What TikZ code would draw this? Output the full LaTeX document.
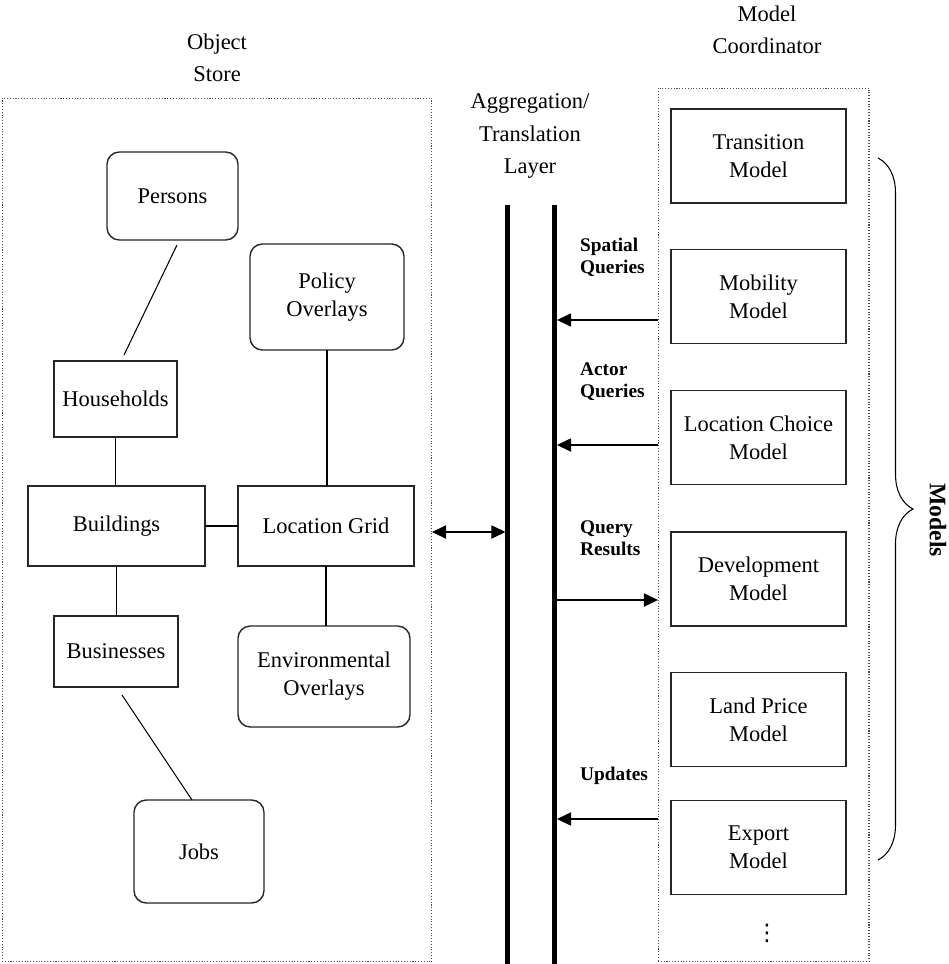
\documentclass[tikz,border=0pt]{standalone}
\usepackage{fontspec}
\setmainfont{Liberation Serif}
\newfontfamily\dotsfont{DejaVu Sans}
\usetikzlibrary{arrows.meta, positioning, decorations.pathreplacing, calc}
\tikzset{
    objBox/.style={draw=black!85, line width=0.8pt, align=center, inner sep=0pt, outer sep=0pt, font=\fontsize{12.8}{16}\selectfont},
    roundBox/.style={objBox, rounded corners=7pt},
    modelBox/.style={objBox, minimum width=3.5cm, minimum height=1.88cm},
    frameBox/.style={draw=black!70, densely dotted, line width=0.6pt, inner sep=0pt, outer sep=0pt},
    linkLine/.style={line width=0.6pt},
    busLine/.style={line width=2.8pt},
    flowArrow/.style={line width=0.7pt, -{Triangle[length=8pt, width=7.5pt]}},
    qLabel/.style={anchor=west, align=left, font=\fontsize{11}{12.5}\selectfont\bfseries},
    headText/.style={align=center, font=\fontsize{12.8}{18.5}\selectfont}
}

\begin{document}
\begin{tikzpicture}[x=0.02cm, y=-0.02cm]
    \useasboundingbox (0,0) rectangle (948,964);

    % frames and headings
    \node[frameBox, minimum width=8.6cm, minimum height=17.28cm] (storeFrame) at (217,530) {};
    \node[frameBox, minimum width=4.22cm, minimum height=17.48cm] (coordFrame) at (763.5,525) {};
    \node[headText] (storeHead) at (217,58) {Object\\Store};
    \node[headText] (aggHead) at (530,136) {Aggregation/\\Translation\\Layer};
    \node[headText] (coordHead) at (767,30) {Model\\Coordinator};

    % object store
    \node[roundBox, minimum width=2.62cm, minimum height=1.76cm] (persons) at (172.5,196) {Persons};
    \node[roundBox, minimum width=3.08cm, minimum height=2.12cm] (policy) at (327,297) {Policy\\Overlays};
    \node[objBox, minimum width=2.46cm, minimum height=1.52cm] (households) at (115.5,399) {Households};
    \node[objBox, minimum width=3.54cm, minimum height=1.6cm] (buildings) at (116.5,526) {Buildings};
    \node[objBox, minimum width=3.52cm, minimum height=1.6cm] (locGrid) at (326,526) {Location Grid};
    \node[objBox, minimum width=2.48cm, minimum height=1.42cm] (businesses) at (116,651.5) {Businesses};
    \node[roundBox, minimum width=3.44cm, minimum height=2.02cm] (environ) at (324,676.5) {Environmental\\Overlays};
    \node[roundBox, minimum width=2.6cm, minimum height=2.06cm] (jobs) at (199,851.5) {Jobs};

    \draw[linkLine] ($(persons.south)+(4.5,5)$) -- ($(households.north)+(8.5,-6)$);
    \draw[linkLine] (households.south) -- (households.south |- buildings.north);
    \draw[linkLine] (buildings.east) -- (locGrid.west);
    \draw[linkLine] (buildings.south) -- (buildings.south |- businesses.north);
    \draw[linkLine] (policy.south) -- (policy.south |- locGrid.north);
    \draw[linkLine] (environ.north -| locGrid.south) -- (locGrid.south);
    \draw[linkLine] ($(businesses.south)+(6,8)$) -- ($(jobs.north)+(-7,0)$);

    % aggregation layer
    \coordinate (barATop) at (507.5,205); \coordinate (barABot) at (507.5,964);
    \coordinate (barBTop) at (554.5,205); \coordinate (barBBot) at (554.5,964);
    \draw[busLine] (barATop) -- (barABot);
    \draw[busLine] (barBTop) -- (barBBot);
    \coordinate (gateIn) at (505.5,532);
    \draw[line width=0.7pt, {Triangle[length=8pt, width=7.5pt]}-{Triangle[length=8pt, width=7.5pt]}] (storeFrame.east |- gateIn) -- (gateIn);

    % model coordinator
    \node[modelBox] (transition) at (758.5,156) {Transition\\Model};
    \node[modelBox] (mobility) at (758.5,296.5) {Mobility\\Model};
    \node[modelBox] (locChoice) at (758.5,437.5) {Location Choice\\Model};
    \node[modelBox] (development) at (758.5,579) {Development\\Model};
    \node[modelBox] (landPrice) at (758.5,719.5) {Land Price\\Model};
    \node[modelBox] (export) at (758.5,847.5) {Export\\Model};
    \node[font=\dotsfont\fontsize{13}{16}\selectfont] (moreModels) at (767,933) {⋮};

    \coordinate (spatialIn) at (557,320);
    \coordinate (actorIn) at (557,445);
    \coordinate (resultsOut) at (557,600);
    \coordinate (updatesIn) at (557,819);
    \draw[flowArrow] (coordFrame.west |- spatialIn) -- (spatialIn);
    \draw[flowArrow] (coordFrame.west |- actorIn) -- (actorIn);
    \draw[flowArrow] (resultsOut) -- (coordFrame.west |- resultsOut);
    \draw[flowArrow] (coordFrame.west |- updatesIn) -- (updatesIn);
    \node[qLabel] (spatialLbl) at (574,257) {Spatial\\Queries};
    \node[qLabel] (actorLbl) at (574,382) {Actor\\Queries};
    \node[qLabel] (resultsLbl) at (574,538) {Query\\Results};
    \node[qLabel] (updatesLbl) at (574,776) {Updates};

    % brace over the models
    \coordinate (braceTop) at (878,158); \coordinate (braceBot) at (878,860);
    \draw[line width=0.6pt, decorate, decoration={brace, amplitude=0.7cm}] (braceTop) -- (braceBot);
    \node[rotate=-90, font=\fontsize{13.5}{16}\selectfont\bfseries] (modelsLbl) at (938,520) {Models};
\end{tikzpicture}
\end{document}
